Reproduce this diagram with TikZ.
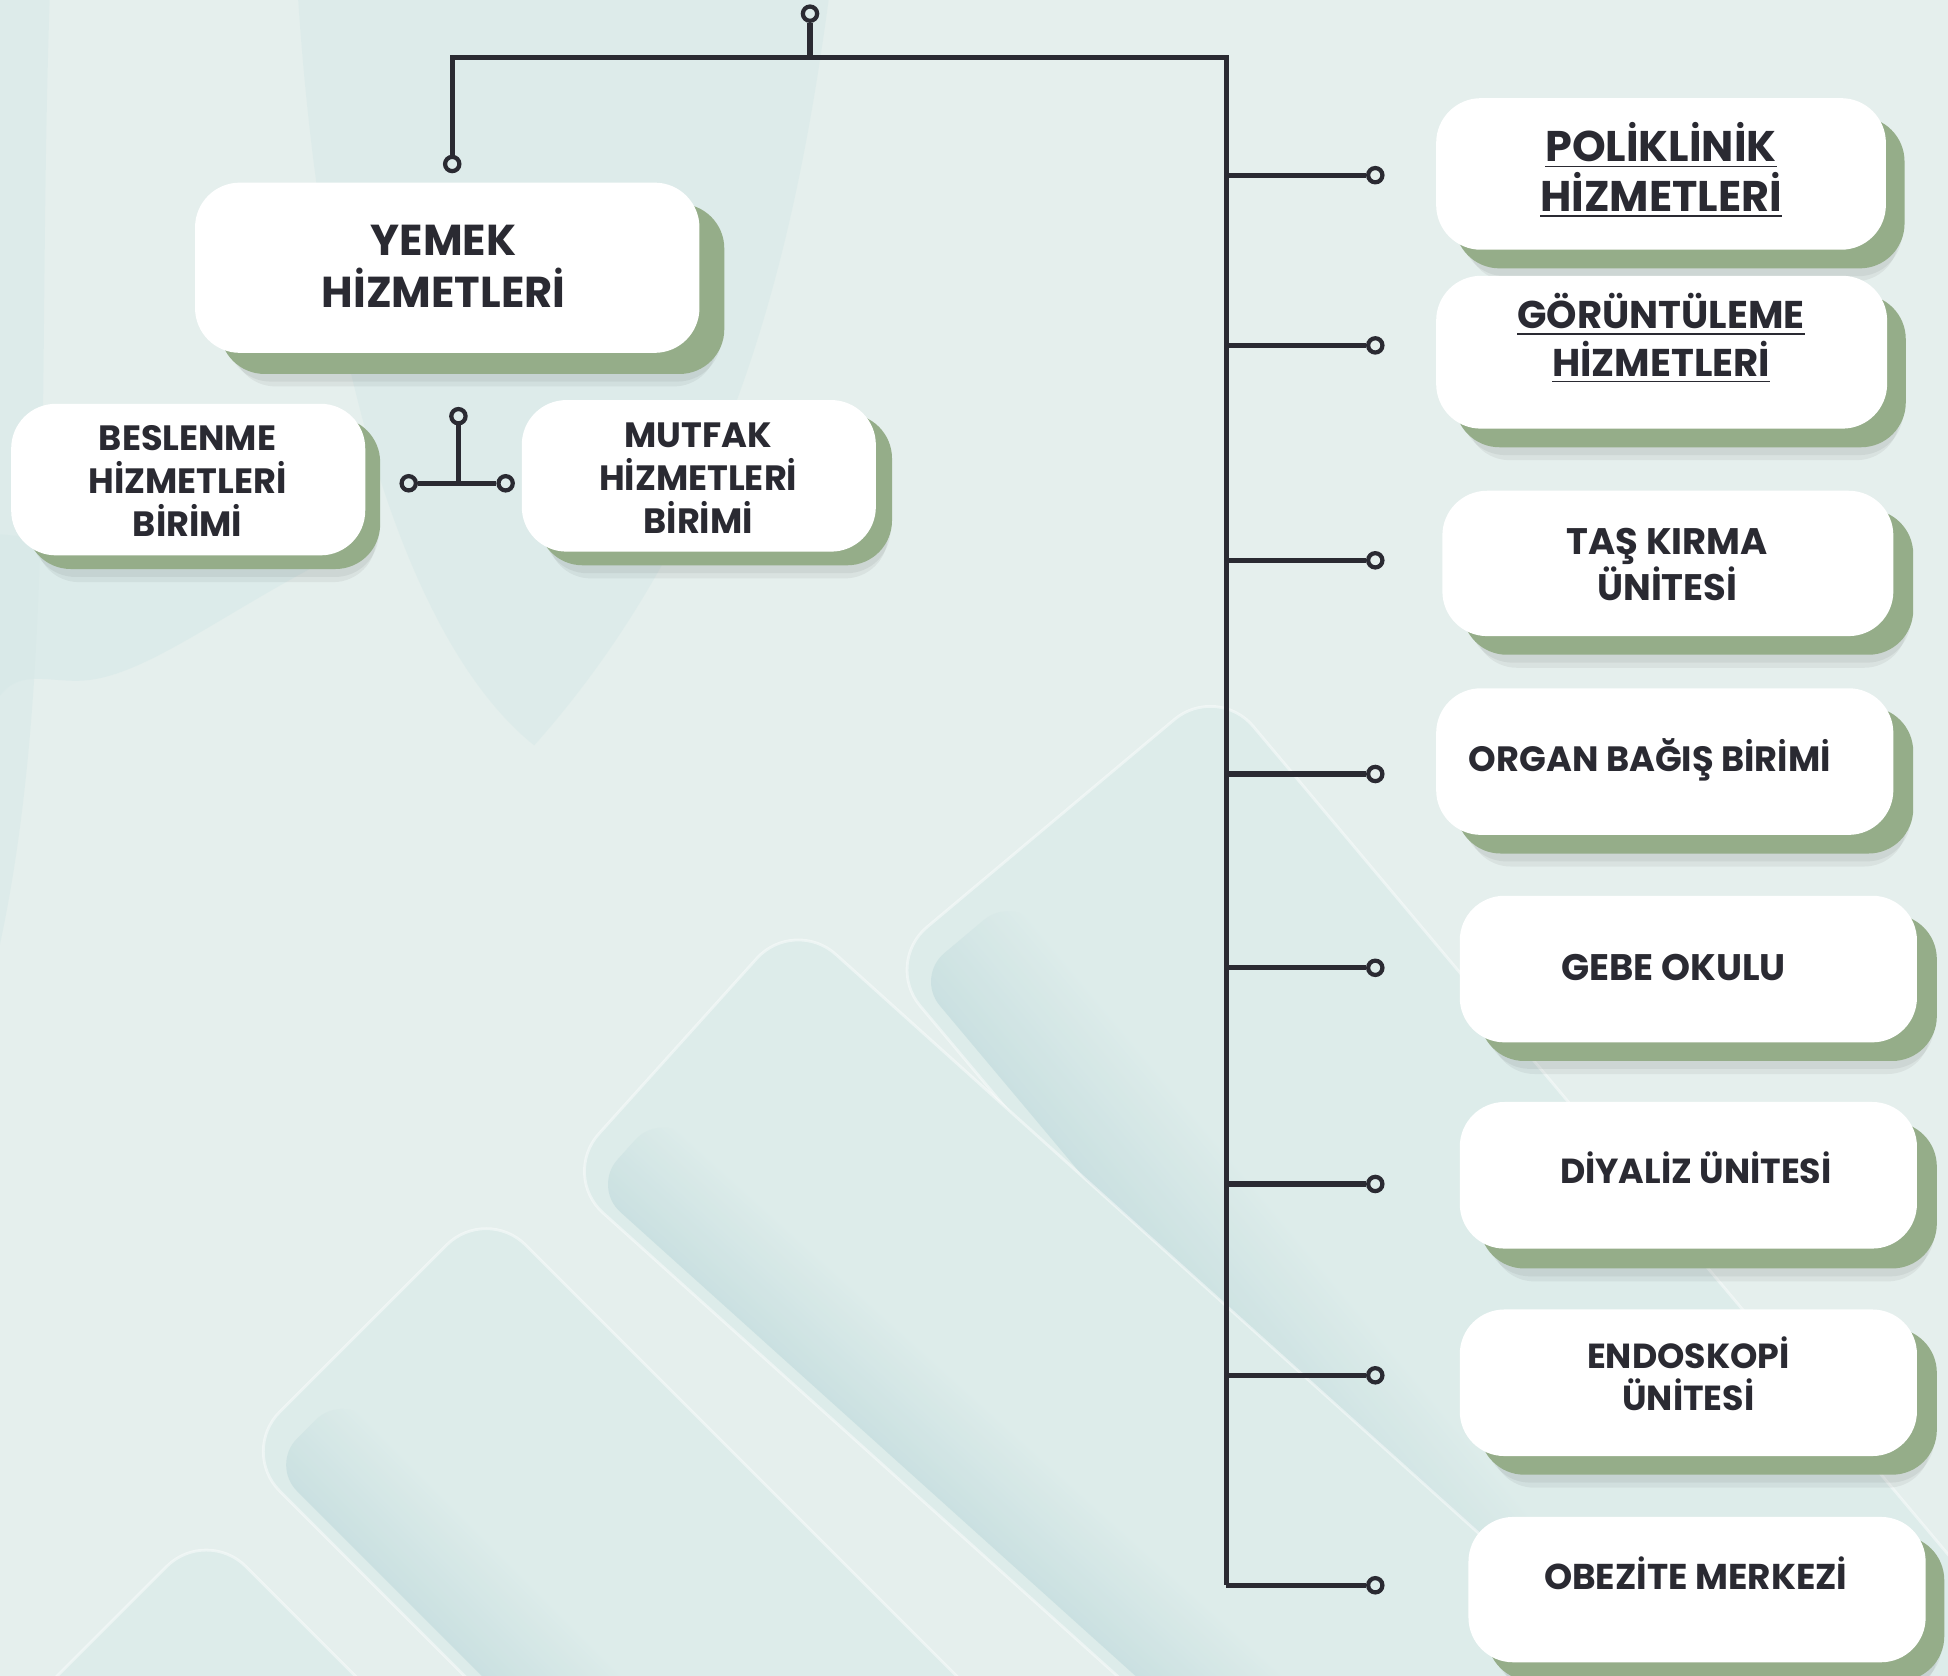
\documentclass[tikz,border=0pt]{standalone}
\usepackage{fontspec}
\setmainfont{Poppins}
\usetikzlibrary{shadows}
\definecolor{bg}{HTML}{E5EFED}
\definecolor{bgteal}{HTML}{D6E9E8}
\definecolor{cylbody}{HTML}{DDECEA}
\definecolor{cyldark}{HTML}{C6DEDF}
\definecolor{ink}{HTML}{2A2A32}
\definecolor{sage}{HTML}{95AD89}
\def\UU{0.012423cm}
\newcommand\fsz[2]{\fontsize{#1}{#2}\selectfont\bfseries}
\newcommand\cylinder[5]{% cx, cy, angle, halfL, halfW
  \begin{scope}[transform canvas={shift={(#1,#2)}, rotate=-#3}]
    \fill[cylbody, rounded corners=45*\UU] (-#4,-#5) rectangle (#4,#5);
    \shade[rounded corners=30*\UU, top color=cylbody, bottom color=cyldark, opacity=.8] (-#4+25,#5*0.35) rectangle (#4,#5*0.93);
    \draw[white, opacity=.45, line width=.8pt, rounded corners=45*\UU] (-#4,-#5) rectangle (#4,#5);
  \end{scope}}
\tikzset{
  orgbox/.style 2 args={fill=white, rounded corners=36*\UU, inner sep=0pt,
    general shadow={fill=black, opacity=.05, shadow xshift=#1*\UU+3*\UU, shadow yshift=-#2*\UU-14*\UU, shadow scale=.96},
    general shadow={fill=black, opacity=.05, shadow xshift=#1*\UU+2*\UU, shadow yshift=-#2*\UU-8*\UU, shadow scale=.98},
    general shadow={fill=sage, shadow xshift=#1*\UU, shadow yshift=-#2*\UU}},
  lbl/.style={text=ink, align=center, inner sep=0pt},
  pin/.style={circle, draw=ink, line width=1.2pt, inner sep=0pt, minimum size=11.5*\UU},
  wire/.style={draw=ink, line width=1.5pt, line join=miter}
}
\begin{document}
\begin{tikzpicture}[x=0.012423cm, y=-0.012423cm]
% background
\fill[bg] (0,0) rectangle (1568,1349);
\useasboundingbox (0,0) rectangle (1568,1349);
\begin{scope}
\clip (0,0) rectangle (1568,1349);
% top soft teal areas
\fill[bgteal, opacity=.5] (240,0) -- (667,0) .. controls (640,200) and (590,420) .. (430,600) .. controls (330,520) and (260,300) .. (240,0) -- cycle;
\fill[bgteal, opacity=.5] (0,0) -- (40,0) .. controls (30,300) and (45,550) .. (0,760) -- cycle;
\fill[bgteal, opacity=.55] (0,430) -- (255,455) .. controls (170,500) and (110,548) .. (62,548) .. controls (35,548) and (15,540) .. (0,560) -- cycle;
% cylinders (back to front)
\cylinder{1180}{1061}{50}{520}{175}
\cylinder{932}{1190}{42}{520}{140}
\cylinder{660}{1437}{45}{520}{140}
\cylinder{364}{1625}{45}{420}{140}
\end{scope}

% boxes
\node[orgbox={20}{17}, minimum width=406*\UU, minimum height=137*\UU] (yemek) at (360,215.5) {};
\node[orgbox={12}{11}, minimum width=285*\UU, minimum height=122*\UU] (besl) at (151.5,386) {};
\node[orgbox={13}{11}, minimum width=285*\UU, minimum height=122*\UU] (mutf) at (562.5,383) {};
\node[orgbox={15}{15}, minimum width=362*\UU, minimum height=122*\UU] (poli) at (1337,140) {};
\node[orgbox={15}{15}, minimum width=363*\UU, minimum height=123*\UU] (goru) at (1337.5,283.5) {};
\node[orgbox={16}{15}, minimum width=363*\UU, minimum height=117*\UU] (tas) at (1342.5,453.5) {};
\node[orgbox={16}{15}, minimum width=368*\UU, minimum height=118*\UU] (organ) at (1340,613) {};
\node[orgbox={16}{15}, minimum width=368*\UU, minimum height=118*\UU] (gebe) at (1359,780) {};
\node[orgbox={16}{16}, minimum width=368*\UU, minimum height=118*\UU] (diya) at (1359,946) {};
\node[orgbox={16}{15}, minimum width=368*\UU, minimum height=118*\UU] (endo) at (1359,1113) {};
\node[orgbox={15}{15}, minimum width=368*\UU, minimum height=117*\UU] (obez) at (1366,1279.5) {};

% labels
\node[lbl, font=\fsz{12.3}{14.8}] (tyemek) at (357,214) {YEMEK\\HİZMETLERİ};
\node[lbl, font=\fsz{10}{12.3}] (tbesl) at (151,387) {BESLENME\\HİZMETLERİ\\BİRİMİ};
\node[lbl, font=\fsz{10}{12.3}] (tmutf) at (562,385) {MUTFAK\\HİZMETLERİ\\BİRİMİ};
\node[lbl, font=\fsz{12.2}{14.1}] (tpoli) at (1337,137) {\underline{POLİKLİNİK}\\\underline{HİZMETLERİ}};
\node[lbl, font=\fsz{11}{13.7}] (tgoru) at (1337,272.5) {\underline{GÖRÜNTÜLEME}\\\underline{HİZMETLERİ}};
\node[lbl, font=\fsz{10.5}{13}] (ttas) at (1342,454.5) {TAŞ KIRMA\\ÜNİTESİ};
\node[lbl, font=\fsz{10}{13}] (torgan) at (1328,612) {ORGAN BAĞIŞ BİRİMİ};
\node[lbl, font=\fsz{10.5}{13}] (tgebe) at (1347,779) {GEBE OKULU};
\node[lbl, font=\fsz{9.9}{13}] (tdiya) at (1365,940) {DİYALİZ ÜNİTESİ};
\node[lbl, font=\fsz{9.9}{12}] (tendo) at (1359,1106) {ENDOSKOPİ\\ÜNİTESİ};
\node[lbl, font=\fsz{10.2}{13}] (tobez) at (1365,1266) {OBEZİTE MERKEZİ};

% main connectors
\node[pin] (p0) at (652,11) {};
\coordinate (jt) at (652,46);
\coordinate (jl) at (364,46);
\coordinate (jr) at (987,46);
\coordinate (jb) at (987,1276);
\node[pin] (pY) at (364,132) {};
\draw[wire] (p0) -- (jt);
\draw[wire] (pY) -- (jl) -- (jr) -- (jb);
\foreach \k/\yy in {1/141, 2/278, 3/451, 4/623, 5/779, 6/953, 7/1107, 8/1276}{
  \coordinate (b\k) at (987,\yy);
  \node[pin] (p\k) at (1107,\yy) {};
  \draw[wire] (b\k) -- (p\k);
}
% small connector
\node[pin] (pm) at (369,335) {};
\coordinate (jm) at (369,389);
\node[pin] (pa) at (329,389) {};
\node[pin] (pb) at (407,389) {};
\draw[wire] (pm) -- (jm);
\draw[wire] (pa) -- (pb);
\end{tikzpicture}
\end{document}
